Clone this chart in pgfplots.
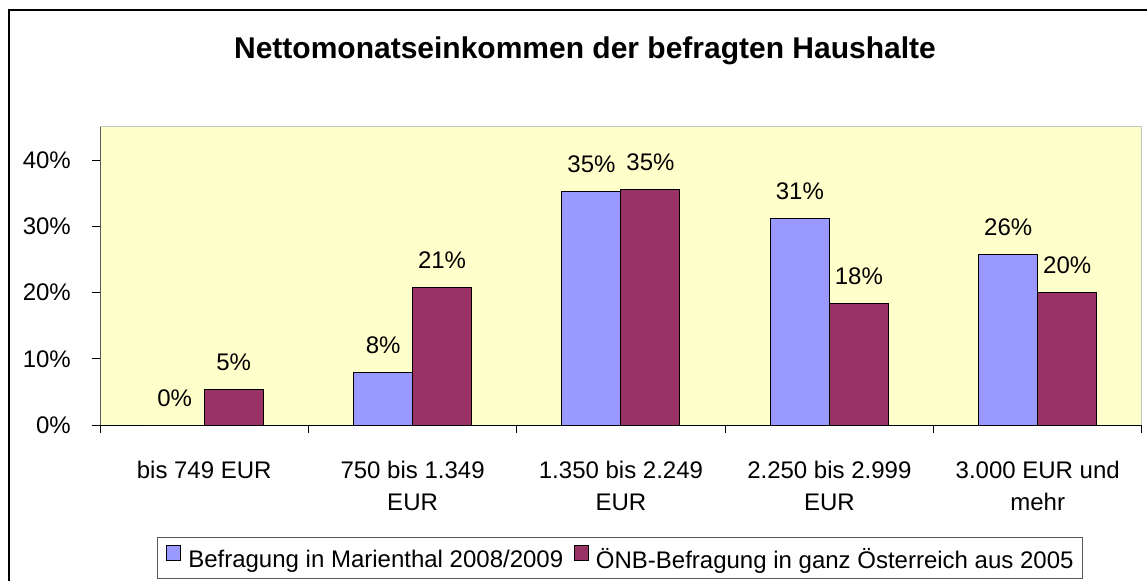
\documentclass[border=0pt]{standalone}
\usepackage{pgfplots}
\pgfplotsset{compat=1.18}
\usepackage{pgfplotstable}
\usepackage{fontspec}
\setmainfont{Liberation Sans}
\definecolor{bgy}{HTML}{FFFFCC}
\definecolor{serA}{HTML}{9999FF}
\definecolor{serB}{HTML}{993366}
\newcommand\fs{\fontsize{24bp}{32.4bp}\selectfont}
\pgfplotstableread{
x y lab
0 0 0
1 7.9 8
2 35.2 35
3 31.2 31
4 25.8 26
}\tabA
\pgfplotstableread{
x y lab
0 5.4 5
1 20.8 21
2 35.5 35
3 18.4 18
4 20.0 20
}\tabB
\begin{document}
\begin{tikzpicture}[font=\fs]
\useasboundingbox (0bp,0bp) rectangle (1147bp,581bp);
\fill[white] (0bp,0bp) rectangle (1147bp,581bp);
\draw[black, line width=1.3bp] (9bp,-5bp) -- (9bp,571bp) -- (1160bp,571bp);
\node[font=\fontsize{30bp}{36bp}\selectfont\bfseries, anchor=base, inner sep=0pt] at (585bp,522bp) {Nettomonatseinkommen der befragten Haushalte};
\begin{axis}[
  at={(100bp,156bp)}, anchor=south west,
  width=1042bp, height=298bp, scale only axis,
  xmin=-0.5, xmax=4.5, ymin=0, ymax=45,
  axis background/.style={fill=bgy, draw=gray!45, line width=1bp},
  axis lines=left,
  x axis line style={-, black, line width=1bp},
  y axis line style={-, draw=gray!70!black, line width=1bp},
  ytick={0,10,20,30,40}, yticklabels={0\%,10\%,20\%,30\%,40\%},
  xtick={0,1,2,3,4},
  xticklabels={{bis 749 EUR},{750 bis 1.349\\EUR},{1.350 bis 2.249\\EUR},{2.250 bis 2.999\\EUR},{3.000 EUR und\\mehr}},
  minor xtick={-0.5,0.5,1.5,2.5,3.5,4.5},
  tick align=outside, major tick length=8bp, minor tick length=8bp,
  every major x tick/.append style={draw=none},
  every minor x tick/.append style={black, line width=1bp},
  every major y tick/.append style={black, line width=1bp},
  yticklabel style={font=\fs, anchor=east, inner sep=0pt, xshift=-21bp},
  xticklabel style={font=\fs, align=center, anchor=north, inner sep=0pt, yshift=-27.7bp},
  ybar=0pt, bar width=0.283,
  every axis plot post/.append style={legend image code/.code={\draw[black, line width=1bp, fill=\pgfkeysvalueof{/pgfplots/mylegfill}] (0bp,-1.5bp) rectangle (14bp,13.5bp);}},
  nodes near coords={\pgfplotspointmeta\%},
  point meta=explicit symbolic,
  every node near coord/.append style={font=\fs, anchor=base, inner sep=0pt, yshift=19bp},
  legend columns=2,
  legend style={at={(0.499,-0.4453)}, anchor=center, draw=black!65, line width=0.8bp, font=\fs,
    inner xsep=9bp, inner ysep=8bp,
    nodes={inner sep=0pt},
    /tikz/every odd column/.append style={column sep=7bp},
    /tikz/every even column/.append style={column sep=10.7bp}},
  clip=false,
  /pgfplots/mylegfill/.initial=white,
]
\addplot[fill=serA, draw=black, line width=1bp, /pgfplots/mylegfill=serA] table[x=x, y=y, meta=lab] {\tabA};
\addlegendentry{Befragung in Marienthal 2008/2009}
\addplot[fill=serB, draw=black, line width=1bp, /pgfplots/mylegfill=serB] table[x=x, y=y, meta=lab] {\tabB};
\addlegendentry{ÖNB-Befragung in ganz Österreich aus 2005}
\end{axis}
\end{tikzpicture}
\end{document}
